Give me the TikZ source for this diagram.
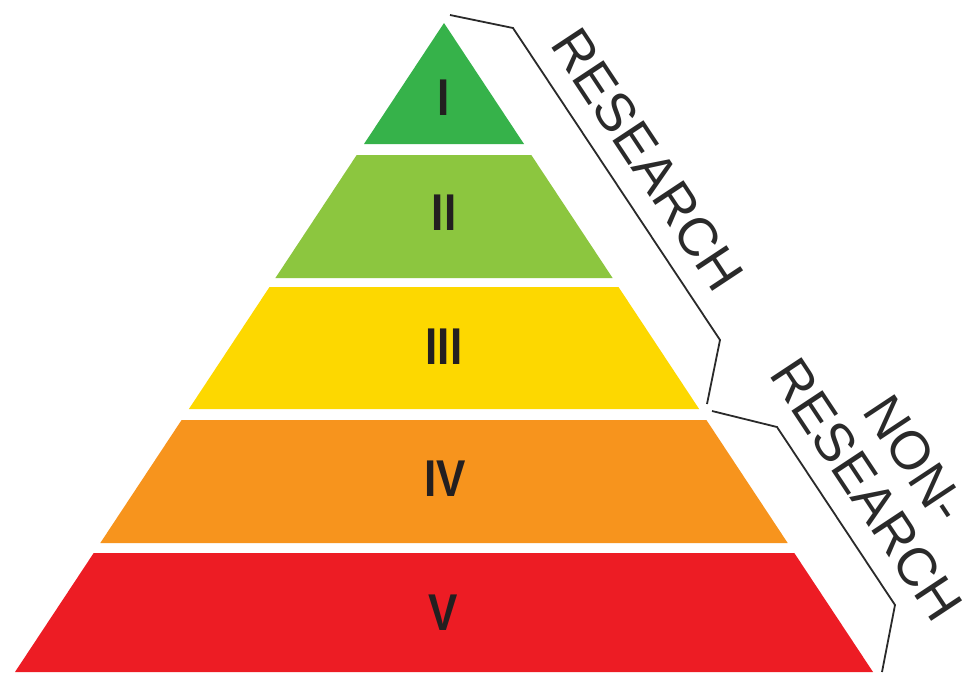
\documentclass[tikz,border=0pt]{standalone}
\usepackage{fontspec}
\setmainfont{Liberation Sans}
\newfontfamily\numfont{Liberation Sans}
\begin{document}
\begin{tikzpicture}[x=0.75pt,y=-0.75pt,
  numtxt/.style={text=numcol,font=\numfont\fontsize{38.8pt}{40pt}\selectfont\bfseries,xscale=0.85,inner sep=0pt},
  sidelbl/.style={text=lblcol,font=\fontsize{40.5pt}{43pt}\selectfont,rotate=-56.5,inner sep=0pt,anchor=base},
  bracketline/.style={draw=lblcol,line width=1.35pt,line join=miter}]
\definecolor{lvlone}{HTML}{36B24A}
\definecolor{lvltwo}{HTML}{8CC63F}
\definecolor{lvlthree}{HTML}{FDD800}
\definecolor{lvlfour}{HTML}{F7941D}
\definecolor{lvlfive}{HTML}{ED1C24}
\definecolor{numcol}{HTML}{231F20}
\definecolor{lblcol}{HTML}{2A2A2A}
\useasboundingbox (0,0) rectangle (964,672);
\fill[white] (0,0) rectangle (964,672);
% pyramid layers
\fill[lvlone] (444,23) -- (524,144) -- (364,144) -- cycle;
\fill[lvltwo] (356.7,155) -- (531.3,155) -- (612.6,278) -- (275.4,278) -- cycle;
\fill[lvlthree] (269.5,287) -- (618.5,287) -- (699.1,409) -- (188.9,409) -- cycle;
\fill[lvlfour] (181.6,420) -- (706.4,420) -- (787.7,543) -- (100.3,543) -- cycle;
\fill[lvlfive] (93.7,553) -- (794.3,553) -- (873,672) -- (15,672) -- cycle;
% numerals
\node[numtxt] (n1) at (444,98) {I};
\node[numtxt] (n2) at (444,213) {II};
\node[numtxt] (n3) at (444,347) {III};
\node[numtxt] (n4) at (445,479) {IV};
\node[numtxt] (n5) at (443,613) {V};
% brackets
\coordinate (ra) at (450,15);
\coordinate (rb) at (513,28);
\coordinate (rc) at (720,340);
\coordinate (rd) at (707,404);
\draw[bracketline] (ra) -- (rb) -- (rc) -- (rd);
\coordinate (na) at (712,411);
\coordinate (nb) at (777,427);
\coordinate (nc) at (895,605);
\coordinate (nd) at (882,672);
\draw[bracketline] (na) -- (nb) -- (nc) -- (nd);
% labels
\node[sidelbl] (res) at (632,170) {RESEARCH};
\node[sidelbl] (non) at (900,469) {NON-};
\node[sidelbl] (nonres) at (851,500) {RESEARCH};
\end{tikzpicture}
\end{document}
